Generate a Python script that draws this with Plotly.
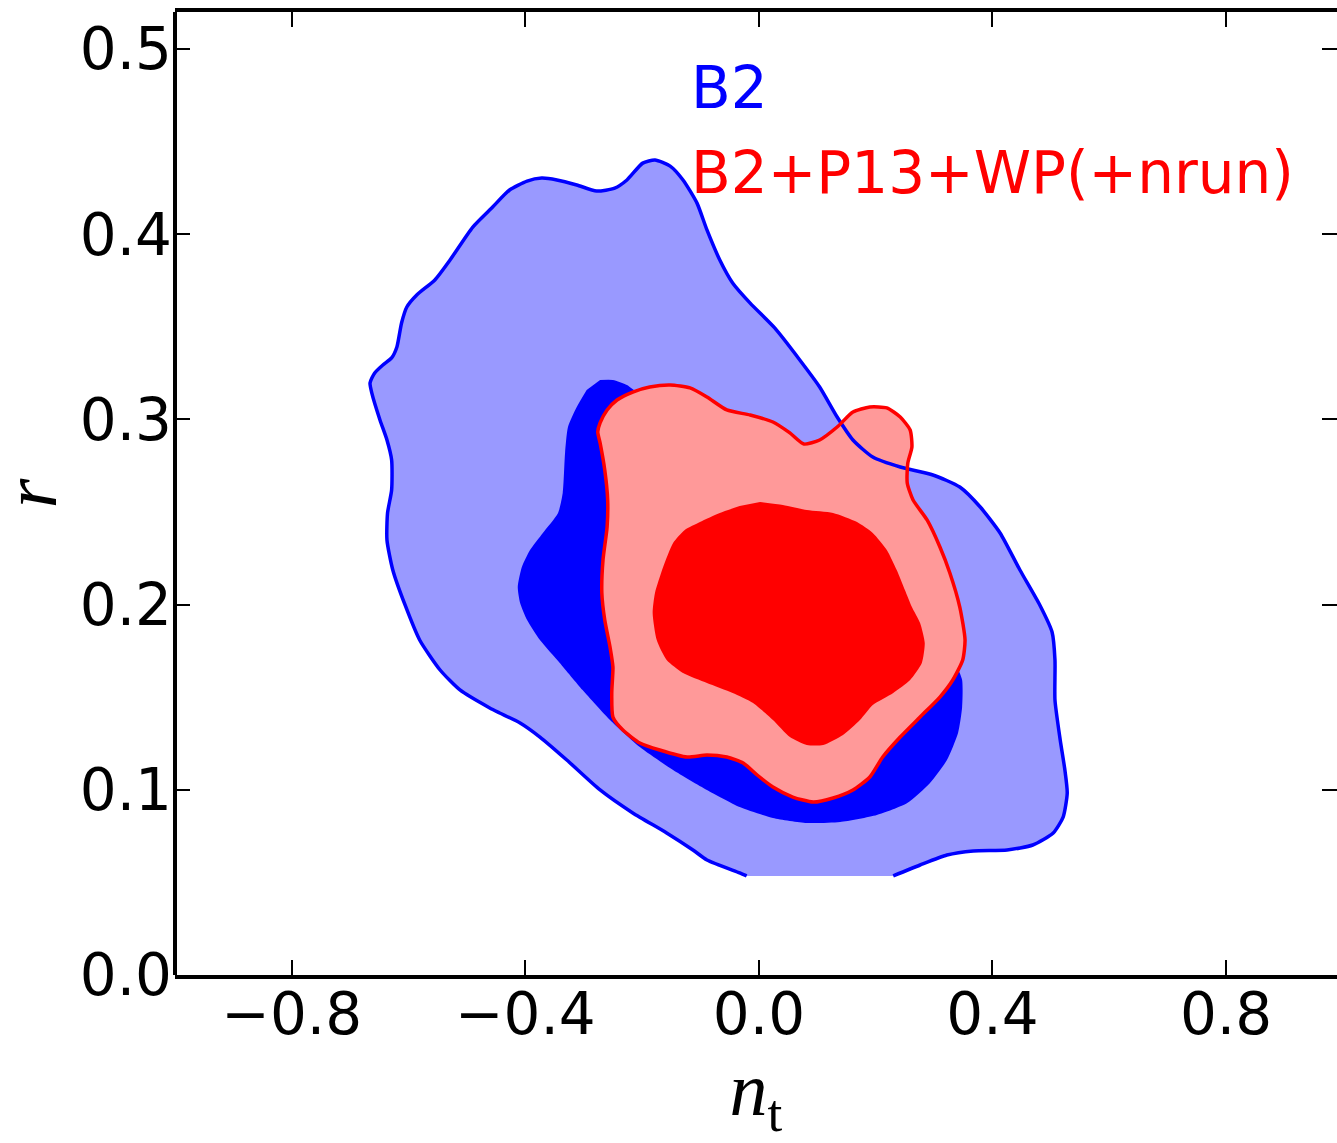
import plotly.graph_objects as go

# ---- data (contour vertices in data units: n_t, r) ----
b2_outer_nt = [-0.021, -0.033, -0.089, -0.113, -0.158, -0.216, -0.272, -0.329, -0.375, -0.409, -0.444, -0.461,
               -0.512, -0.546, -0.581, -0.606, -0.627, -0.637, -0.636, -0.629, -0.629, -0.637, -0.649, -0.663,
               -0.666, -0.658, -0.644, -0.629, -0.620, -0.612, -0.603, -0.586, -0.555, -0.529, -0.490, -0.456,
               -0.427, -0.397, -0.372, -0.346, -0.312, -0.278, -0.247, -0.226, -0.199, -0.178, -0.152, -0.130,
               -0.106, -0.089, -0.067, -0.045, -0.015, 0.027, 0.070, 0.104, 0.134, 0.161, 0.195, 0.242, 0.298,
               0.344, 0.379, 0.413, 0.447, 0.481, 0.502, 0.507, 0.507, 0.516, 0.524, 0.528, 0.521, 0.504, 0.469,
               0.425, 0.367, 0.322, 0.276, 0.230]
b2_outer_r = [0.0535, 0.0551, 0.0621, 0.0675, 0.0767, 0.0875, 0.0999, 0.1161, 0.1285, 0.1361, 0.1415, 0.1442,
              0.1539, 0.1647, 0.1809, 0.1998, 0.2187, 0.2349, 0.2495, 0.2619, 0.2781, 0.2889, 0.2997, 0.3143,
              0.3197, 0.3251, 0.3294, 0.3332, 0.3391, 0.3521, 0.3607, 0.3672, 0.3753, 0.3861, 0.4039, 0.4147,
              0.4239, 0.4287, 0.4303, 0.4293, 0.4266, 0.4233, 0.4249, 0.4293, 0.4384, 0.4401, 0.4368, 0.4293,
              0.4168, 0.4023, 0.3861, 0.3737, 0.3628, 0.3494, 0.3321, 0.3175, 0.3013, 0.2889, 0.2797, 0.2743,
              0.2700, 0.2635, 0.2527, 0.2387, 0.2187, 0.1998, 0.1852, 0.1701, 0.1485, 0.1269, 0.1107, 0.0983,
              0.0853, 0.0767, 0.0702, 0.0675, 0.0670, 0.0648, 0.0594, 0.0535]

b2_inner_nt = [-0.272, -0.250, -0.226, -0.209, -0.170, -0.101, 0.002, 0.104, 0.190, 0.242, 0.276, 0.302, 0.327,
               0.339, 0.348, 0.348,
               0.341, 0.322, 0.293, 0.254, 0.202, 0.139, 0.082, 0.024, -0.033, -0.089, -0.147, -0.204, -0.255,
               -0.302, -0.341, -0.375, -0.397, -0.409, -0.413, -0.406, -0.392, -0.370, -0.344, -0.336, -0.332,
               -0.327, -0.312, -0.295]
b2_inner_r = [0.3213, 0.3213, 0.3186, 0.3148, 0.3105, 0.3024, 0.2943, 0.2781, 0.2565, 0.2349, 0.2133, 0.1917,
              0.1701, 0.1663, 0.1593,
              0.1447, 0.1307, 0.1161, 0.1037, 0.0929, 0.0864, 0.0826, 0.0821, 0.0848, 0.0907, 0.0999, 0.1107,
              0.1231, 0.1377, 0.1539, 0.1685, 0.1809, 0.1917, 0.2009, 0.2095, 0.2203, 0.2295, 0.2387, 0.2495,
              0.2603, 0.2819, 0.2959, 0.3067, 0.3159]

comb_outer_nt = [-0.276, -0.272, -0.260, -0.243, -0.216, -0.187, -0.152, -0.118, -0.089, -0.055, -0.015, 0.024,
                 0.053, 0.077, 0.104, 0.134, 0.161, 0.190, 0.219, 0.242, 0.259, 0.262, 0.255, 0.254, 0.264, 0.288,
                 0.310, 0.327, 0.344, 0.353, 0.349, 0.332, 0.310, 0.276, 0.242, 0.212, 0.190, 0.161, 0.127, 0.093,
                 0.058, 0.024, -0.003, -0.027, -0.055, -0.089, -0.123, -0.170, -0.204, -0.233, -0.250, -0.252,
                 -0.250, -0.255, -0.264, -0.269, -0.267, -0.260, -0.259, -0.264, -0.272]
comb_outer_r = [0.2932, 0.2981, 0.3051, 0.3105, 0.3148, 0.3175, 0.3186, 0.3170, 0.3121, 0.3051, 0.3024, 0.2986,
                0.2927, 0.2867, 0.2889, 0.2959, 0.3040, 0.3067, 0.3062, 0.3013, 0.2943, 0.2851, 0.2765, 0.2657,
                0.2565, 0.2457, 0.2311, 0.2171, 0.1987, 0.1809, 0.1701, 0.1593, 0.1501, 0.1393, 0.1285, 0.1177,
                0.1069, 0.0999, 0.0956, 0.0934, 0.0961, 0.1015, 0.1080, 0.1145, 0.1177, 0.1188, 0.1177, 0.1215,
                0.1253, 0.1323, 0.1393, 0.1523, 0.1663, 0.1771, 0.1917, 0.2063, 0.2241, 0.2419, 0.2565, 0.2727,
                0.2873]

comb_inner_nt = [0.002, 0.041, 0.082, 0.127, 0.168, 0.195, 0.219, 0.236, 0.250, 0.262, 0.276, 0.284, 0.279,
                 0.259, 0.230, 0.195, 0.173, 0.144, 0.110, 0.082, 0.053, 0.024, -0.010, -0.045, -0.089, -0.130,
                 -0.158, -0.175, -0.182, -0.178, -0.164, -0.147, -0.127, -0.101, -0.067, -0.033]
comb_inner_r = [0.2554, 0.2538, 0.2511, 0.2495, 0.2446, 0.2387, 0.2295, 0.2187, 0.2079, 0.1987, 0.1901, 0.1793,
                0.1685, 0.1593, 0.1523, 0.1458, 0.1377, 0.1296, 0.1242, 0.1242, 0.1285, 0.1377, 0.1469, 0.1523,
                0.1577, 0.1631, 0.1701, 0.1809, 0.1955, 0.2063, 0.2203, 0.2333, 0.2403, 0.2446, 0.2495, 0.2532]

x_tickvals = [-0.8, -0.4, 0.0, 0.4, 0.8]
x_ticktext = ["\u22120.8", "\u22120.4", "0.0", "0.4", "0.8"]
y_tickvals = [0.0, 0.1, 0.2, 0.3, 0.4, 0.5]
y_ticktext = ["0.0", "0.1", "0.2", "0.3", "0.4", "0.5"]

label_b2 = "B2"
label_comb = "B2+P13+WP(+nrun)"
x_title = "<i>n</i><sub>t</sub>"
y_title = "<i>r</i>"

BLUE, LBLUE = "#0000ff", "#9999ff"
RED, LRED = "#ff0000", "#ff9999"

fig = go.Figure()
sh = dict(shape="spline", smoothing=0.6)

def fill_trace(x, y, color):
    return go.Scatter(x=x, y=y, mode="lines", fill="toself", fillcolor=color,
                      line=dict(width=0, color=color, **sh), hoverinfo="skip", showlegend=False)

fig.add_trace(fill_trace(b2_outer_nt, b2_outer_r, LBLUE))
fig.add_trace(fill_trace(b2_inner_nt, b2_inner_r, BLUE))
fig.add_trace(fill_trace(comb_outer_nt, comb_outer_r, LRED))
fig.add_trace(fill_trace(comb_inner_nt, comb_inner_r, RED))
# outline of the outer B2 contour (open at the bottom cut)
fig.add_trace(go.Scatter(x=b2_outer_nt, y=b2_outer_r, mode="lines",
                         line=dict(color=BLUE, width=3.5, **sh), hoverinfo="skip", showlegend=False))
fig.add_trace(go.Scatter(x=comb_outer_nt + comb_outer_nt[:1], y=comb_outer_r + comb_outer_r[:1], mode="lines",
                         line=dict(color=RED, width=3.5, **sh), hoverinfo="skip", showlegend=False))

tickfont = dict(family="DejaVu Sans", size=58, color="black")
titlefont = dict(family="Liberation Serif", size=76, color="black")
fig.update_xaxes(range=[-1.0, 0.99], tickvals=x_tickvals, ticktext=x_ticktext, tickfont=tickfont,
                 ticks="inside", ticklen=15, tickwidth=1.5, tickcolor="black", ticklabelstandoff=-15,
                 showline=True, linewidth=4, linecolor="black", mirror="ticks",
                 showgrid=False, zeroline=False, automargin=False,
                 title=dict(text=x_title, font=titlefont, standoff=28))
fig.update_yaxes(range=[0, 0.52], tickvals=y_tickvals, ticktext=y_ticktext, tickfont=tickfont,
                 ticks="inside", ticklen=15, tickwidth=1.5, tickcolor="black", ticklabelstandoff=2,
                 showline=False, mirror="ticks",
                 showgrid=False, zeroline=False, automargin=False)

fig.add_shape(type="line", xref="paper", yref="paper", x0=0, x1=0, y0=0, y1=1,
              line=dict(color="black", width=4))

# y-axis title placed as rotated text left of the tick labels
fig.add_annotation(x=-0.125, y=0.5, xref="paper", yref="paper", text=y_title, showarrow=False,
                   textangle=-90, xanchor="center", yanchor="middle", font=titlefont)

fig.add_annotation(x=-0.119, y=0.479, xref="x", yref="y", text=label_b2, showarrow=False,
                   xanchor="left", yanchor="middle", font=dict(family="DejaVu Sans", size=58, color=BLUE))
fig.add_annotation(x=-0.119, y=0.433, xref="x", yref="y", text=label_comb, showarrow=False,
                   xanchor="left", yanchor="middle", font=dict(family="DejaVu Sans", size=58, color=RED))

fig.update_layout(width=1337, height=1143, margin=dict(l=175, r=0, t=12, b=168),
                  plot_bgcolor="white", paper_bgcolor="white")

fig.write_html("out.html")
